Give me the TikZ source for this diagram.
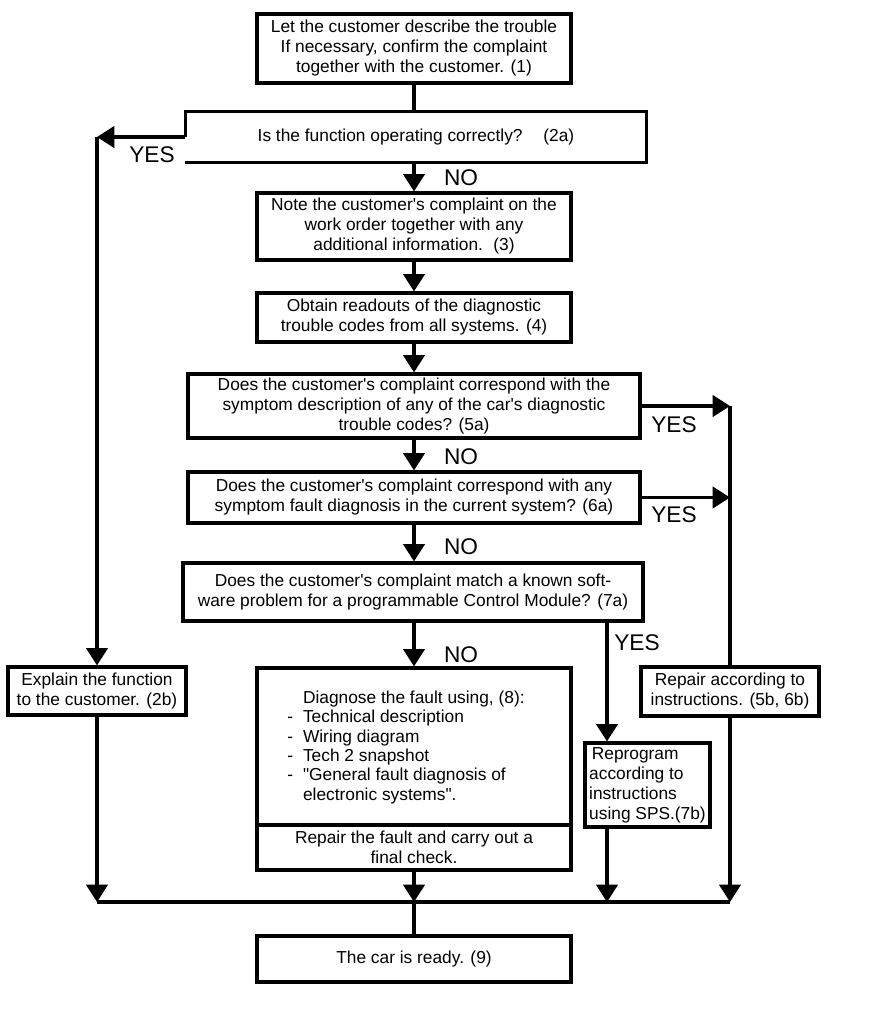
\documentclass[tikz,border=0pt]{standalone}
\usepackage{fontspec}
\setmainfont{Liberation Sans}[Ligatures=TeXOff]
\usetikzlibrary{arrows.meta}
\newcommand\bxfont{\fontsize{13}{15}\selectfont}
\newcommand\ynfont{\fontsize{17}{20}\selectfont}
\begin{document}
\begin{tikzpicture}[x=0.75pt,y=-0.75pt,
  box/.style={draw, line width=2.4pt, inner sep=0pt, align=center, font=\bxfont},
  conn/.style={line width=2.4pt},
  arr/.style={conn, -{Triangle[length=13pt,width=16pt]}},
  yn/.style={font=\ynfont, inner sep=0pt}]
\fill[white] (0,0) rectangle (880,1016);
\useasboundingbox (0,0) rectangle (880,1016);

% boxes
\node[box, minimum width=235.5pt, minimum height=51.75pt] (b1) at (414,48.5)
  {Let the customer describe the trouble\\If necessary, confirm the complaint\\together with the customer. (1)};
\node[box, draw=none, minimum width=343.5pt, minimum height=36pt] (q2a) at (416,137)
  {Is the function operating correctly?\hspace{1.2em}(2a)};
\draw[conn] (q2a.west) -- (q2a.north west) -- (q2a.north east) -- (q2a.south east) -- (q2a.south west);
\node[box, minimum width=235.5pt, minimum height=50.25pt] (b3) at (414,226.5)
  {Note the customer's complaint on the\\work order together with any\\additional information.\hspace{0.6em}(3)};
\node[box, minimum width=235.5pt, minimum height=36.75pt] (b4) at (414,317.5)
  {Obtain readouts of the diagnostic\\trouble codes from all systems. (4)};
\node[box, minimum width=339pt, minimum height=48pt] (b5a) at (414,406)
  {Does the customer's complaint correspond with the\\symptom description of any of the car's diagnostic\\trouble codes? (5a)};
\node[box, minimum width=339pt, minimum height=38.25pt] (b6a) at (414,497.5)
  {Does the customer's complaint correspond with any\\symptom fault diagnosis in the current system? (6a)};
\node[box, minimum width=345pt, minimum height=43.5pt] (b7a) at (413,592)
  {Does the customer's complaint match a known soft-\\ware problem for a programmable Control Module? (7a)};
\node[box, minimum width=133.5pt, minimum height=36pt] (b2b) at (97,691)
  {Explain the function\\to the customer. (2b)};
\node[box, minimum width=235.5pt, minimum height=117.75pt] (diag) at (414,746.5) {};
\node[anchor=west, inner sep=0pt, font=\fontsize{13}{14.5}\selectfont] (dtxt) at (287,748)
  {\begin{tabular}{@{}l@{\hspace{7.5pt}}l@{}}
   & Diagnose the fault using, (8):\\
   - & Technical description\\
   - & Wiring diagram\\
   - & Tech 2 snapshot\\
   - & "General fault diagnosis of\\
   & electronic systems".
  \end{tabular}};
\node[box, minimum width=235.5pt, minimum height=33.75pt] (b8r) at (414,847.5)
  {Repair the fault and carry out a\\final check.};
\node[box, minimum width=133.5pt, minimum height=36.75pt] (rep) at (730,691.5)
  {Repair according to\\instructions. (5b, 6b)};
\node[box, minimum width=93.75pt, minimum height=63pt, align=left] (b7b) at (647.5,785)
  {\hspace{2pt}Reprogram\\according to\\instructions\\using SPS.(7b)};
\node[box, minimum width=235.5pt, minimum height=34.5pt] (b9) at (414,959)
  {The car is ready. (9)};

% helper coordinates
\coordinate (base) at (0,902);
\coordinate (x7) at (607,0);
\coordinate (lc) at (b2b.north |- q2a.west);

% connectors
\draw[conn] (b1.south) -- (b1.south |- q2a.north);
\draw[arr] (q2a.west) -- (lc);
\draw[arr] (lc) -- (b2b.north);
\draw[arr] (b3.north |- q2a.south) -- (b3.north);
\draw[arr] (b3.south) -- (b4.north);
\draw[arr] (b4.south) -- (b4.south |- b5a.north);
\draw[arr] (b5a.south) -- (b5a.south |- b6a.north);
\draw[arr] (b6a.south) -- (b6a.south |- b7a.north);
\draw[arr] (diag.north |- b7a.south) -- (diag.north);
\draw[arr] (b7a.south -| x7) -- (b7b.north -| x7);
\draw[arr] (b5a.east) -- (b5a.east -| rep.north);
\draw[arr] (b6a.east) -- (b6a.east -| rep.north);
\draw[conn] (b5a.east -| rep.north) -- (rep.north);
\draw[arr] (b2b.south) -- (b2b.south |- base);
\draw[arr] (b8r.south) -- (b8r.south |- base);
\draw[arr] (b7b.south -| x7) -- (x7 |- base);
\draw[arr] (rep.south) -- (rep.south |- base);
\draw[conn] (b2b.south |- base) -- (rep.south |- base);
\draw[conn] (b8r.south |- base) -- (b9.north);

% labels
\node[yn] (yes2a) at (152,155) {YES};
\node[yn] (no2a) at (461,178) {NO};
\node[yn] (no5a) at (461,457) {NO};
\node[yn] (no6a) at (461,547) {NO};
\node[yn] (no7a) at (461,655) {NO};
\node[yn] (yes5a) at (674,425) {YES};
\node[yn] (yes6a) at (674,515) {YES};
\node[yn] (yes7a) at (637,643) {YES};
\end{tikzpicture}
\end{document}
